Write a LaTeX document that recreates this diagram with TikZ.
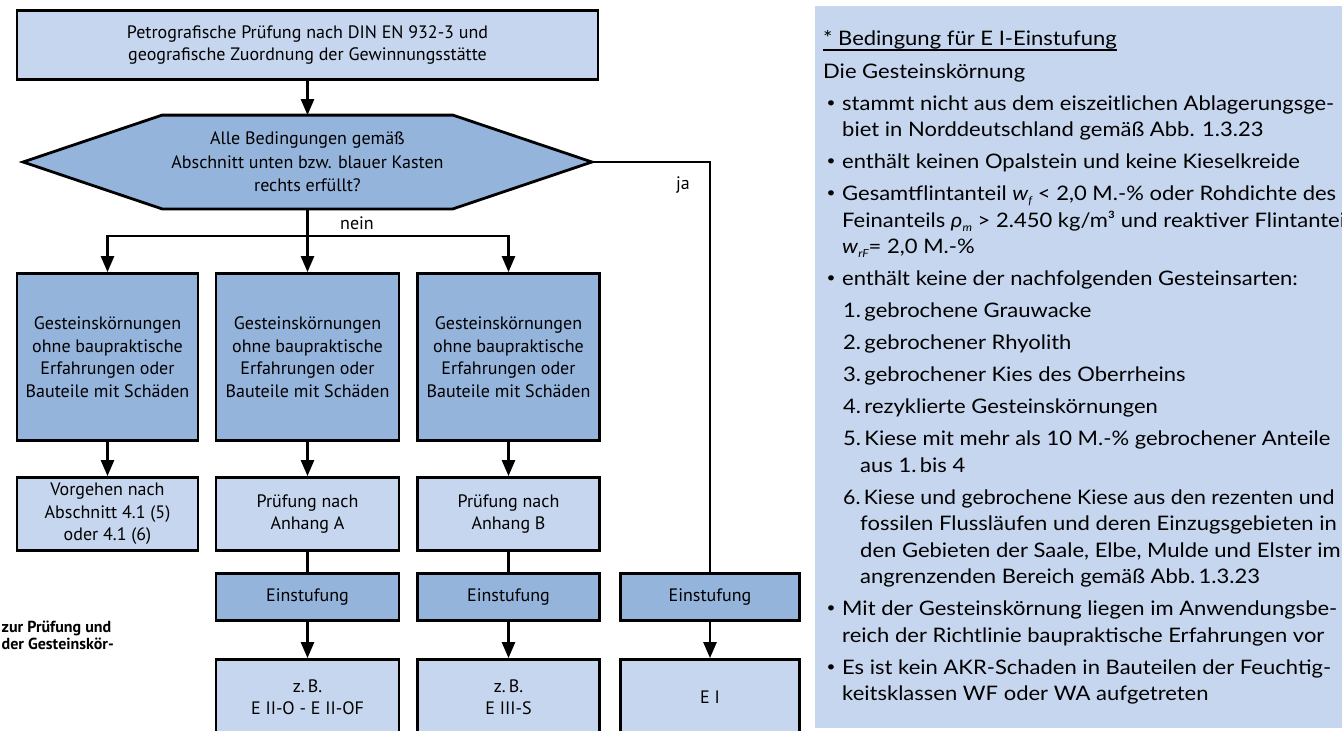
\documentclass[tikz,border=0pt]{standalone}
\usepackage{fontspec}
\setmainfont{PT Sans}
\newfontfamily\fcfont{PT Sans}
\newfontfamily\pfont[FakeStretch=1.1]{Lato}
\usetikzlibrary{arrows.meta,backgrounds}
\definecolor{darkfill}{RGB}{148,180,220}
\definecolor{lightfill}{RGB}{198,214,238}
\definecolor{panelfill}{RGB}{198,214,238}
\newcommand{\psub}[1]{\raisebox{-4pt}{\fontsize{11}{11}\selectfont\itshape #1}}
\begin{document}
\begin{tikzpicture}[x=1pt,y=-1pt,
  fc/.style={font=\fcfont\fontsize{18}{22.5}\selectfont, align=center, inner sep=0pt, line width=2.8pt, draw=black},
  darkbox/.style={fc, fill=darkfill},
  lightbox/.style={fc, fill=lightfill},
  conn/.style={line width=2.6pt},
  arr/.style={conn, -{Triangle[width=13pt,length=16pt]}},
  lbl/.style={font=\fcfont\fontsize{18}{22}\selectfont, inner sep=0pt},
  ptxt/.style={font=\pfont\fontsize{20}{24}\selectfont, anchor=base west, inner sep=0pt},
  bul/.style={font=\pfont\fontsize{14}{14}\selectfont, inner sep=0pt},
  captxt/.style={font=\fcfont\bfseries\fontsize{16}{18}\selectfont, anchor=base west, inner sep=0pt}]
\useasboundingbox (0,0) rectangle (1342,731);
\clip (0,0) rectangle (1342,731);

% right panel
\fill[panelfill] (815,6) rectangle (1350,728);

% flowchart
\node[lightbox, minimum width=581pt, minimum height=69pt] (top) at (307.5,45)
  {Petrografische Prüfung nach DIN EN 932-3 und\\geografische Zuordnung der Gewinnungsstätte};
\node[fc, draw=none, font=\fcfont\fontsize{18}{23.5}\selectfont, minimum width=566pt, minimum height=91pt] (hex) at (307.5,162)
  {Alle Bedingungen gemäß\\Abschnitt unten bzw. blauer Kasten\\rechts erfüllt?};
\begin{scope}[on background layer]
\draw[line width=2.8pt, fill=darkfill, line join=miter]
  (hex.west) -- ([xshift=139pt]hex.north west) -- ([xshift=-139pt]hex.north east)
  -- (hex.east) -- ([xshift=-139pt]hex.south east) -- ([xshift=139pt]hex.south west) -- cycle;
\end{scope}

\node[darkbox, minimum width=181pt, minimum height=167pt] (a1) at (107.5,357)
  {Gesteinskörnungen\\ohne baupraktische\\Erfahrungen oder\\Bauteile mit Schäden};
\node[darkbox, minimum width=183pt, minimum height=167pt] (a2) at (307.5,357)
  {Gesteinskörnungen\\ohne baupraktische\\Erfahrungen oder\\Bauteile mit Schäden};
\node[darkbox, minimum width=182pt, minimum height=167pt] (a3) at (508.5,357)
  {Gesteinskörnungen\\ohne baupraktische\\Erfahrungen oder\\Bauteile mit Schäden};

\node[lightbox, minimum width=181pt, minimum height=73pt] (b1) at (107.5,514)
  {Vorgehen nach\\Abschnitt 4.1 (5)\\oder 4.1 (6)};
\node[lightbox, minimum width=183pt, minimum height=73pt] (b2) at (307.5,514)
  {Prüfung nach\\Anhang A};
\node[lightbox, minimum width=182pt, minimum height=73pt] (b3) at (508.5,514)
  {Prüfung nach\\Anhang B};

\node[darkbox, minimum width=183pt, minimum height=47pt] (e2) at (307.5,597) {Einstufung};
\node[darkbox, minimum width=182pt, minimum height=47pt] (e3) at (508.5,597) {Einstufung};
\node[darkbox, minimum width=179pt, minimum height=47pt] (e4) at (710,597) {Einstufung};

\node[lightbox, minimum width=183pt, minimum height=75pt] (f2) at (307.5,697) {z.\,B.\\E II-O - E II-OF};
\node[lightbox, minimum width=182pt, minimum height=75pt] (f3) at (508.5,697) {z.\,B.\\E III-S};
\node[lightbox, minimum width=179pt, minimum height=75pt] (f4) at (710,697) {E I};

% connectors
\coordinate (split) at (307.5,236);
\draw[arr] (top.south) -- (hex.north);
\draw[conn] (hex.south) -- (split);
\draw[conn, line cap=rect] (split -| a1) -- (split -| a3);
\draw[arr] (split -| a1) -- (a1.north);
\draw[arr] (split) -- (a2.north);
\draw[arr] (split -| a3) -- (a3.north);
\node[lbl] (nein) at (357,223) {nein};

\draw[conn] (hex.east) -| (e4.north);
\node[lbl] (ja) at (683,185) {ja};

\draw[arr] (a1.south) -- (b1.north);
\draw[arr] (a2.south) -- (b2.north);
\draw[arr] (a3.south) -- (b3.north);
\draw[conn] (b2.south) -- (e2.north);
\draw[conn] (b3.south) -- (e3.north);
\draw[arr] (e2.south) -- (f2.north);
\draw[arr] (e3.south) -- (f3.north);
\draw[arr] (e4.south) -- (f4.north);

% caption fragments
\node[captxt] (cap1) at (1.5,632) {zur Prüfung und};
\node[captxt] (cap2) at (1.5,649) {der Gesteinskör-};

% panel text
\node[ptxt] (h0) at (823,45) {* Bedingung für E I-Einstufung};
\draw[line width=1.3pt] ([yshift=-5pt]h0.base west) -- ([yshift=-5pt]h0.base east);
\node[ptxt] (p0) at (823,78) {Die Gesteinskörnung};
\node[bul] (u1) at (831,104) {•};
\node[ptxt] (p1a) at (842,110) {stammt nicht aus dem eiszeitlichen Ablagerungsge-};
\node[ptxt] (p1b) at (842,136.5) {biet in Norddeutschland gemäß Abb. 1.3.23};
\node[bul] (u2) at (831,162.5) {•};
\node[ptxt] (p2) at (842,168.5) {enthält keinen Opalstein und keine Kieselkreide};
\node[bul] (u3) at (831,194.5) {•};
\node[ptxt] (p3a) at (842,200.5) {Gesamtflintanteil \textit{w}\psub{f} < 2,0 M.-\% oder Rohdichte des};
\node[ptxt] (p3b) at (842,227) {Feinanteils \textit{ρ}\psub{m} > 2.450 kg/m³ und reaktiver Flintanteil};
\node[ptxt] (p3c) at (842,253.5) {\textit{w}\psub{rF}= 2,0 M.-\%};
\node[bul] (u4) at (831,279.5) {•};
\node[ptxt] (p4) at (842,285.5) {enthält keine der nachfolgenden Gesteinsarten:};
\node[ptxt] (n1) at (843,317.5) {1.\,gebrochene Grauwacke};
\node[ptxt] (n2) at (843,349.5) {2.\,gebrochener Rhyolith};
\node[ptxt] (n3) at (843,381.5) {3.\,gebrochener Kies des Oberrheins};
\node[ptxt] (n4) at (843,413.5) {4.\,rezyklierte Gesteinskörnungen};
\node[ptxt] (n5a) at (843,445.5) {5.\,Kiese mit mehr als 10 M.-\% gebrochener Anteile};
\node[ptxt] (n5b) at (860,472) {aus 1.\,bis 4};
\node[ptxt] (n6a) at (843,504) {\scalebox{0.97}[1]{6.\,Kiese und gebrochene Kiese aus den rezenten und}};
\node[ptxt] (n6b) at (860,530.5) {fossilen Flussläufen und deren Einzugsgebieten in};
\node[ptxt] (n6c) at (860,557) {den Gebieten der Saale, Elbe, Mulde und Elster im};
\node[ptxt] (n6d) at (860,583.5) {angrenzenden Bereich gemäß Abb.\,1.3.23};
\node[bul] (u5) at (831,609.5) {•};
\node[ptxt] (p5a) at (842,615.5) {Mit der Gesteinskörnung liegen im Anwendungsbe-};
\node[ptxt] (p5b) at (842,642) {reich der Richtlinie baupraktische Erfahrungen vor};
\node[bul] (u6) at (831,668) {•};
\node[ptxt] (p6a) at (842,674) {Es ist kein AKR-Schaden in Bauteilen der Feuchtig-};
\node[ptxt] (p6b) at (842,700.5) {keitsklassen WF oder WA aufgetreten};
\end{tikzpicture}
\end{document}
